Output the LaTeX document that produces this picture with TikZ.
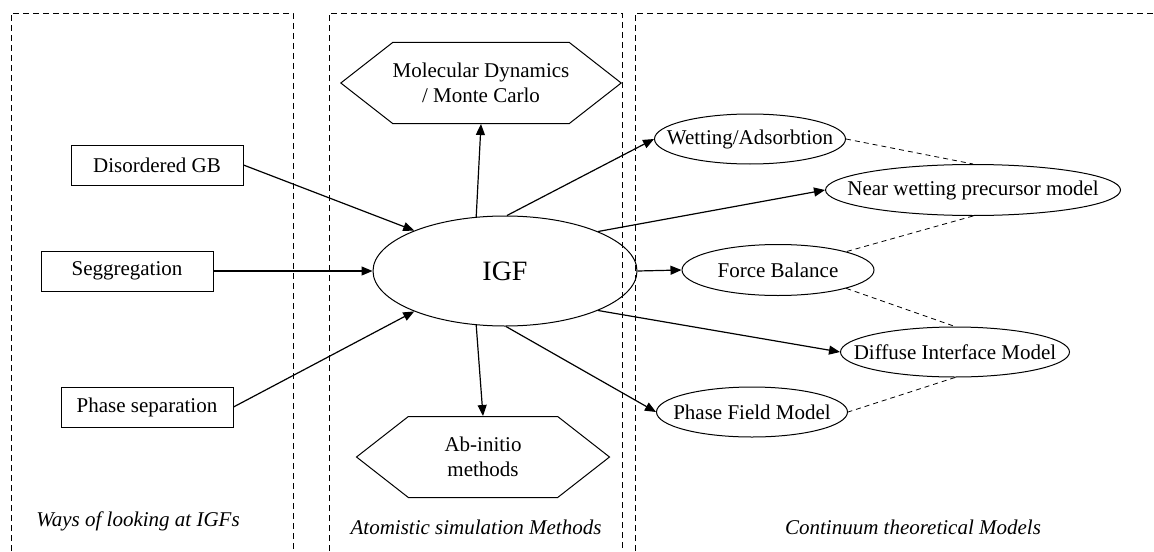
\documentclass[tikz,border=0pt]{standalone}
\usepackage{fontspec}
\setmainfont{Liberation Serif}
\usetikzlibrary{arrows.meta, shapes.geometric, shapes.symbols}

\begin{document}
\begin{tikzpicture}[x=0.5pt, y=-0.5pt, >={Triangle[length=5.5pt,width=4.5pt]},
  font=\fontsize{10.5}{12.5}\selectfont,
  box/.style={draw, line width=0.5pt, minimum width=86pt, minimum height=20pt, inner sep=0pt},
  oval/.style={draw, ellipse, line width=0.5pt, inner xsep=-40pt, inner ysep=0pt},
  hexa/.style={draw, signal, signal to=west and east, signal pointer angle=76, line width=0.5pt, minimum width=126.5pt, minimum height=40.5pt, align=center, inner sep=0pt},
  grp/.style={line width=0.4pt, dash pattern=on 3pt off 2pt},
  link/.style={->, line width=0.6pt},
  tie/.style={line width=0.4pt, dash pattern=on 2.5pt off 2pt},
  grpname/.style={font=\fontsize{10.5}{12.5}\selectfont\itshape}]
\useasboundingbox (0,0) rectangle (1154,551);

% group frames
\draw[grp] (11,551) -- (11,13) -- (293,13) -- (293,551);
\draw[grp] (329,551) -- (329,13) -- (622,13) -- (622,551);
\draw[grp] (635,551) -- (635,13) -- (1154,13);

\node[grpname] (gWays) at (138,521) {Ways of looking at IGFs};
\node[grpname] (gAtom) at (476,527) {Atomistic simulation Methods};
\node[grpname] (gCont) at (913,527) {Continuum theoretical Models};

% centre
\node[oval, minimum width=132pt, minimum height=55pt, font=\fontsize{14}{16}\selectfont] (IGF) at (505,271) {IGF};

% ways of looking
\node[box] (DG) at (157,165) {Disordered GB};
\node[box] (Seg) at (127,271) {Seggregation};
\node[box] (PS) at (147,407) {Phase separation};

% atomistic
\node[hexa] (MD) at (481,83) {Molecular Dynamics\\ / Monte Carlo};
\node[hexa] (AI) at (483,457) {Ab-initio\\ methods};

% continuum
\node[oval, minimum width=95.5pt, minimum height=25pt] (WA) at (750,139) {Wetting/Adsorbtion};
\node[oval, minimum width=147.5pt, minimum height=25.5pt] (NW) at (973,190) {Near wetting precursor model};
\node[oval, minimum width=96pt, minimum height=25.5pt] (FB) at (778,270) {Force Balance};
\node[oval, minimum width=114.5pt, minimum height=25pt] (DI) at (955,352) {Diffuse Interface Model};
\node[oval, minimum width=95.5pt, minimum height=25pt] (PF) at (752,412) {Phase Field Model};

\draw[link] (DG.east) -- (IGF.156);
\draw[link] (Seg.east) -- (IGF.west);
\draw[link] (PS.east) -- (IGF.-156);

\draw[link] (IGF.118) -- (MD.south);
\draw[link] (IGF.-118) -- (AI.north);

\draw[link] (IGF.88) -- (WA.west);
\draw[link] (IGF.23) -- (NW.west);
\draw[link] (IGF.east) -- (FB.west);
\draw[link] (IGF.-23) -- (DI.west);
\draw[link] (IGF.-89) -- (PF.west);

\draw[tie] (WA.east) -- (NW.north);
\draw[tie] (NW.south) -- (FB.north east);
\draw[tie] (FB.south east) -- (DI.north);
\draw[tie] (DI.south) -- (PF.east);
\end{tikzpicture}
\end{document}
